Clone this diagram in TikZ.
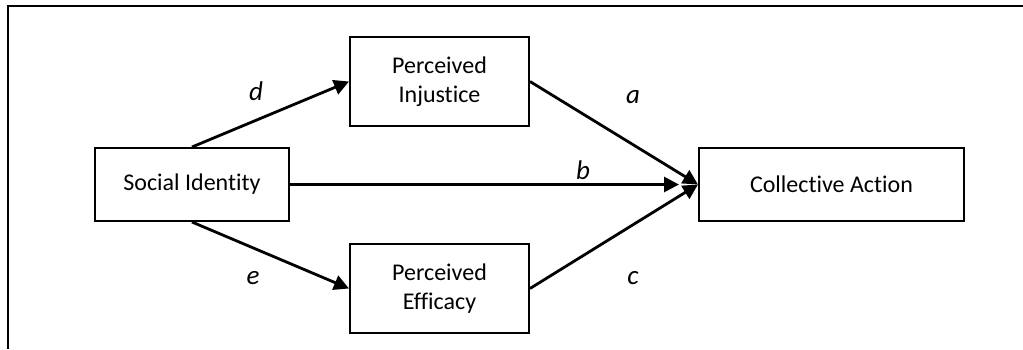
\documentclass[tikz,border=0pt]{standalone}
\usepackage{fontspec}
\setmainfont[Ligatures={NoCommon}]{Carlito}
\usetikzlibrary{positioning, arrows.meta}

\begin{document}
\begin{tikzpicture}[x=0.5pt, y=-0.5pt,
    >={Triangle[length=7.5pt, width=7.5pt]},
    box/.style={draw, line width=1pt, align=center, inner sep=0pt,
        font=\fontsize{12}{14.5}\selectfont},
    lbl/.style={font=\fontsize{13.5}{16}\selectfont\itshape},
    link/.style={->, line width=1.4pt}]
   \useasboundingbox (0,0) rectangle (1023,349);
   % frame
   \draw[line width=1.2pt] (1023,6) -- (8,6) -- (8,349);

   % boxes
   \node[box, minimum width=97pt, minimum height=36.5pt] (si) at (192,184.5) {Social Identity};
   \node[box, minimum width=89.5pt, minimum height=44.5pt] (pi) at (439.5,81.5) {Perceived\\Injustice};
   \node[box, minimum width=89.5pt, minimum height=44.5pt] (pe) at (439.5,288.5) {Perceived\\Efficacy};
   \node[box, minimum width=132.5pt, minimum height=36.5pt] (ca) at (831.5,184.5) {Collective Action};

   % paths
   \draw[link] (si.north) -- (pi.west);
   \draw[link] (si.south) -- (pe.west);
   \draw[link] (pi.east) -- (ca.west);
   \draw[link, shorten >=9.5pt] (si.east) -- (ca.west);
   \draw[link] (pe.east) -- (ca.west);

   % labels
   \node[lbl] (ld) at (256,91) {d};
   \node[lbl] (le) at (253,278) {e};
   \node[lbl] (la) at (633,97) {a};
   \node[lbl] (lb) at (583,170) {b};
   \node[lbl] (lc) at (633,278) {c};
\end{tikzpicture}
\end{document}
